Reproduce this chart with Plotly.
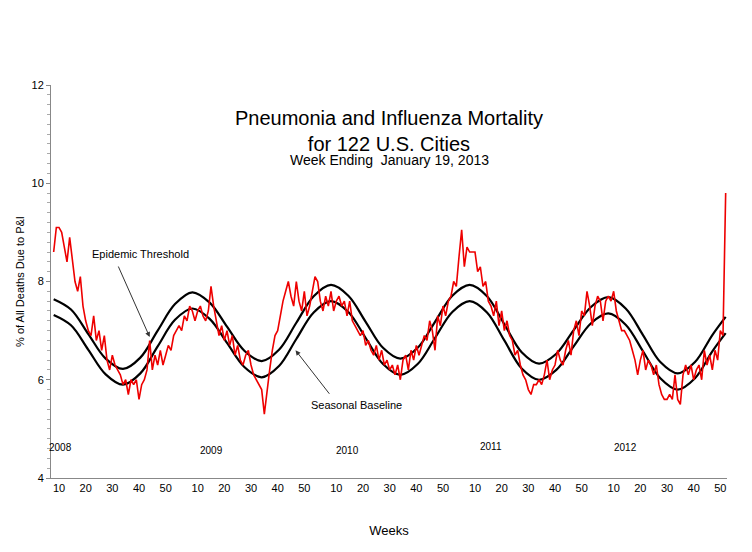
import plotly.graph_objects as go

# week index: (year - 2008) * 52 + week
start_week = 8

pi_2008 = [8.6, 9.1, 9.1, 9.0, 8.7, 8.4, 8.9, 8.5, 8.0, 7.8, 8.1, 7.5, 7.2, 7.0, 6.9, 7.3, 6.8, 7.0,
           6.6, 6.9, 6.4, 6.2, 6.5, 6.3, 6.2, 6.1, 5.9, 6.0, 5.7, 6.0, 5.9, 6.0, 5.6, 5.9, 6.0, 6.2,
           6.8, 6.2, 6.5, 6.3, 6.6, 6.3, 6.5, 6.7, 6.6]
pi_2009 = [6.9, 7.0, 7.1, 7.0, 7.3, 7.2, 7.5, 7.4, 7.2, 7.4, 7.5, 7.3, 7.2, 7.4, 7.9, 7.5, 7.2, 6.9,
           7.1, 6.8, 7.0, 6.7, 6.9, 6.5, 6.7, 6.4, 6.3, 6.5, 6.6, 6.3, 6.1, 6.0, 5.9, 5.8, 5.3, 5.8,
           6.2, 6.6, 6.9, 7.0, 7.3, 7.6, 7.8, 8.0, 7.7, 7.5, 8.0, 7.6, 7.4, 7.8, 7.3, 7.5]
pi_2010 = [7.8, 8.1, 8.0, 7.6, 7.4, 7.7, 7.5, 7.8, 7.4, 7.6, 7.7, 7.5, 7.6, 7.3, 7.6, 7.2, 7.1, 7.0,
           6.9, 7.0, 6.7, 6.8, 6.6, 6.5, 6.7, 6.4, 6.6, 6.3, 6.4, 6.2, 6.3, 6.1, 6.3, 6.0, 6.4, 6.5,
           6.2, 6.6, 6.4, 6.7, 6.5, 6.7, 6.9, 6.8, 7.2, 7.0, 6.6, 7.3, 7.1, 7.5, 7.3, 7.6]
pi_2011 = [7.7, 8.0, 7.9, 8.5, 9.05, 8.3, 8.7, 8.6, 8.6, 8.6, 8.2, 8.3, 7.9, 8.0, 7.6, 7.5, 7.3, 7.6,
           7.1, 7.4, 7.0, 7.2, 6.9, 6.8, 6.5, 6.6, 6.3, 6.1, 6.0, 5.8, 5.7, 5.9, 5.9, 6.0, 5.9, 6.1,
           6.4, 6.0, 6.2, 6.3, 6.6, 6.4, 6.3, 6.6, 6.8, 6.5, 7.0, 7.2, 6.9, 7.4, 7.3, 7.8]
pi_2012 = [7.5, 7.1, 7.5, 7.7, 7.6, 7.2, 7.6, 7.7, 7.6, 7.8, 7.4, 7.2, 7.0, 7.0, 6.9, 6.8, 6.6, 6.4,
           6.1, 6.4, 6.6, 6.2, 6.4, 6.3, 6.1, 6.3, 5.9, 5.7, 5.6, 5.6, 5.7, 5.6, 6.1, 5.6, 5.5, 6.1,
           6.3, 6.1, 6.3, 6.0, 6.2, 6.3, 6.0, 6.6, 6.3, 6.5, 6.2, 6.6, 6.4, 7.0, 6.9, 9.8]

pi_values = pi_2008 + pi_2009 + pi_2010 + pi_2011 + pi_2012
pi_weeks = list(range(start_week, start_week + len(pi_values)))

curve_weeks = [8, 14.5, 21, 27.5, 34, 40.5, 47, 53.5, 60, 66.5, 73, 79.5, 86, 92.5, 99, 105.5,
               112, 118.5, 125, 131.5, 138, 144.5, 151, 157.5, 164, 170.5, 177, 183.5, 190,
               196.5, 203, 209.5, 216, 222.5, 229, 235.5, 242, 248.5, 255, 260]
baseline = [7.32, 7.11, 6.61, 6.11, 5.90, 6.13, 6.68, 7.22, 7.45, 7.24, 6.75, 6.26, 6.05, 6.28,
            6.83, 7.37, 7.60, 7.38, 6.85, 6.32, 6.10, 6.32, 6.85, 7.38, 7.60, 7.37, 6.80, 6.23,
            6.00, 6.20, 6.68, 7.15, 7.35, 7.12, 6.58, 6.03, 5.80, 6.03, 6.58, 6.95]
threshold = [7.64, 7.43, 6.93, 6.43, 6.22, 6.45, 7.00, 7.54, 7.78, 7.57, 7.08, 6.59, 6.38, 6.61,
             7.16, 7.70, 7.93, 7.71, 7.18, 6.65, 6.43, 6.65, 7.18, 7.71, 7.93, 7.70, 7.13, 6.56,
             6.33, 6.53, 7.01, 7.48, 7.68, 7.45, 6.91, 6.36, 6.13, 6.36, 6.91, 7.28]

years = ["2008", "2009", "2010", "2011", "2012"]
year_label_y = [4.62, 4.55, 4.55, 4.65, 4.62]
year_px = [52, 205, 343, 488, 625]
tick_weeks = [10, 20, 30, 40, 50]

tickvals, ticktext = [], []
for k in range(len(years)):
    for w in tick_weeks:
        tickvals.append(k * 52 + w)
        ticktext.append(str(w))

fig = go.Figure()
fig.add_trace(go.Scatter(x=curve_weeks, y=threshold, mode="lines", line_shape="spline",
                         line=dict(color="black", width=2.2), hoverinfo="skip"))
fig.add_trace(go.Scatter(x=curve_weeks, y=baseline, mode="lines", line_shape="spline",
                         line=dict(color="black", width=2.2), hoverinfo="skip"))
fig.add_trace(go.Scatter(x=pi_weeks, y=pi_values, mode="lines",
                         line=dict(color="#ee0000", width=1.6)))

annotations = [
    dict(text="Pneumonia and Influenza Mortality<br>for 122 U.S. Cities", x=0.5, y=0.948,
         xref="paper", yref="paper", showarrow=False, font=dict(size=20), yanchor="top"),
    dict(text="Week Ending  January 19, 2013", xref="paper", yref="paper", x=0.5, y=0.81,
         showarrow=False, font=dict(size=14), yanchor="middle"),
    dict(text="Epidemic Threshold", x=40.7, y=8.56, showarrow=False, font=dict(size=11)),
    dict(text="", x=44, y=6.87, ax=-32, ay=-72, showarrow=True, arrowhead=2,
         arrowsize=1, arrowwidth=1, arrowcolor="#333"),
    dict(text="Seasonal Baseline", x=121.6, y=5.49, showarrow=False, font=dict(size=11)),
    dict(text="", x=98.7, y=6.6, ax=35, ay=45, showarrow=True, arrowhead=2,
         arrowsize=1, arrowwidth=1, arrowcolor="#333"),
]
for yr, px, yy in zip(years, year_px, year_label_y):
    annotations.append(dict(text=yr, x=(px - 50) / 2.706 + 10, y=yy, showarrow=False,
                            font=dict(size=10), xanchor="center"))

fig.update_layout(
    width=744, height=544, plot_bgcolor="white", paper_bgcolor="white",
    margin=dict(l=34, r=25, t=77, b=74), showlegend=False,
    font=dict(family="Arial, Liberation Sans, sans-serif", color="black"),
    annotations=annotations,
    xaxis=dict(range=[7, 260.5], tickvals=tickvals, ticktext=ticktext, showgrid=False,
               zeroline=False, showline=True, linecolor="#888", ticks="", tickfont=dict(size=11),
               title=dict(text="Weeks", font=dict(size=13), standoff=32)),
    yaxis=dict(range=[4, 12], tickvals=[4, 6, 8, 10, 12], showgrid=False, zeroline=False,
               showline=True, linecolor="#888", ticks="outside", ticklen=4, tickcolor="#888",
               minor=dict(dtick=0.2, ticks="outside", ticklen=3, tickcolor="#aaa"),
               tickfont=dict(size=11),
               title=dict(text="% of All Deaths Due to P&I", font=dict(size=11), standoff=4)),
)

fig.write_html("out.html")
